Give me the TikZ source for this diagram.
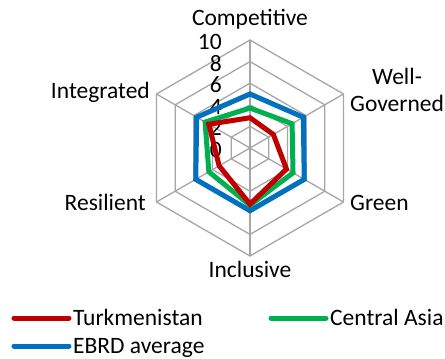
\documentclass[tikz,border=0pt]{standalone}
\usepackage{fontspec}
\setmainfont{Carlito}
\usetikzlibrary{calc}

\definecolor{gridgray}{RGB}{166,166,166}
\definecolor{turkred}{RGB}{192,0,0}
\definecolor{asiagreen}{RGB}{0,176,80}
\definecolor{ebrdblue}{RGB}{0,112,192}

\tikzset{
  gridline/.style={draw=gridgray,line width=1.3pt},
  series/.style={line width=5pt,line join=miter},
  legline/.style={line width=5pt,line cap=round,shorten >=4pt},
  lbl/.style={font=\fontsize{23.5}{27}\selectfont,inner sep=0pt}
}

\begin{document}
\begin{tikzpicture}[x=1pt,y=1pt]
  \useasboundingbox (-250,-211) rectangle (195,148);
  % web
  \foreach \r in {2,4,6,8,10}
    \draw[gridline] (90:{\r*10.8}) -- (30:{\r*10.8}) -- (-30:{\r*10.8})
      -- (-90:{\r*10.8}) -- (-150:{\r*10.8}) -- (150:{\r*10.8}) -- cycle;
  \foreach \a in {90,30,-30,-90,-150,150}
    \draw[gridline] (0,0) -- (\a:108);
  % scale
  \foreach \v in {0,2,4,6,8,10}
    \node[lbl,anchor=base east] (val\v) at (-28,{\v*10.8-9.5}) {\v};
  % series
  \draw[series,ebrdblue] (90:{5.0*10.8}) -- (30:{5.7*10.8}) -- (-30:{5.8*10.8})
    -- (-90:{5.8*10.8}) -- (-150:{5.8*10.8}) -- (150:{5.7*10.8}) -- cycle;
  \draw[series,asiagreen] (90:{3.7*10.8}) -- (30:{4.5*10.8}) -- (-30:{4.6*10.8})
    -- (-90:{5.3*10.8}) -- (-150:{4.4*10.8}) -- (150:{4.8*10.8}) -- cycle;
  \draw[series,turkred] (90:{2.8*10.8}) -- (30:{2.5*10.8}) -- (-30:{3.9*10.8})
    -- (-90:{5.2*10.8}) -- (-150:{3.3*10.8}) -- (150:{4.4*10.8}) -- cycle;
  % axis names
  \node[lbl,anchor=base] (competitive) at (0,122) {Competitive};
  \node[lbl,anchor=west,align=center] (governed) at (100,58) {Well-\\Governed};
  \node[lbl,anchor=base west] (green) at (100,-62) {Green};
  \node[lbl,anchor=base] (inclusive) at (0,-129) {Inclusive};
  \node[lbl,anchor=base east] (resilient) at (-104,-62) {Resilient};
  \node[lbl,anchor=base east] (integrated) at (-100,49) {Integrated};
  % legend
  \node[lbl,anchor=base west] (turk) at (-177,-177) {Turkmenistan};
  \node[lbl,anchor=base west] (asia) at (80,-177) {Central Asia};
  \node[lbl,anchor=base west] (ebrd) at (-177,-205) {EBRD average};
  \coordinate (turkend) at (-236,-170);
  \coordinate (asiaend) at (21,-170);
  \coordinate (ebrdend) at (-236,-198);
  \draw[legline,turkred] (turkend) -- (turkend -| turk.west);
  \draw[legline,asiagreen] (asiaend) -- (asiaend -| asia.west);
  \draw[legline,ebrdblue] (ebrdend) -- (ebrdend -| ebrd.west);
\end{tikzpicture}
\end{document}
